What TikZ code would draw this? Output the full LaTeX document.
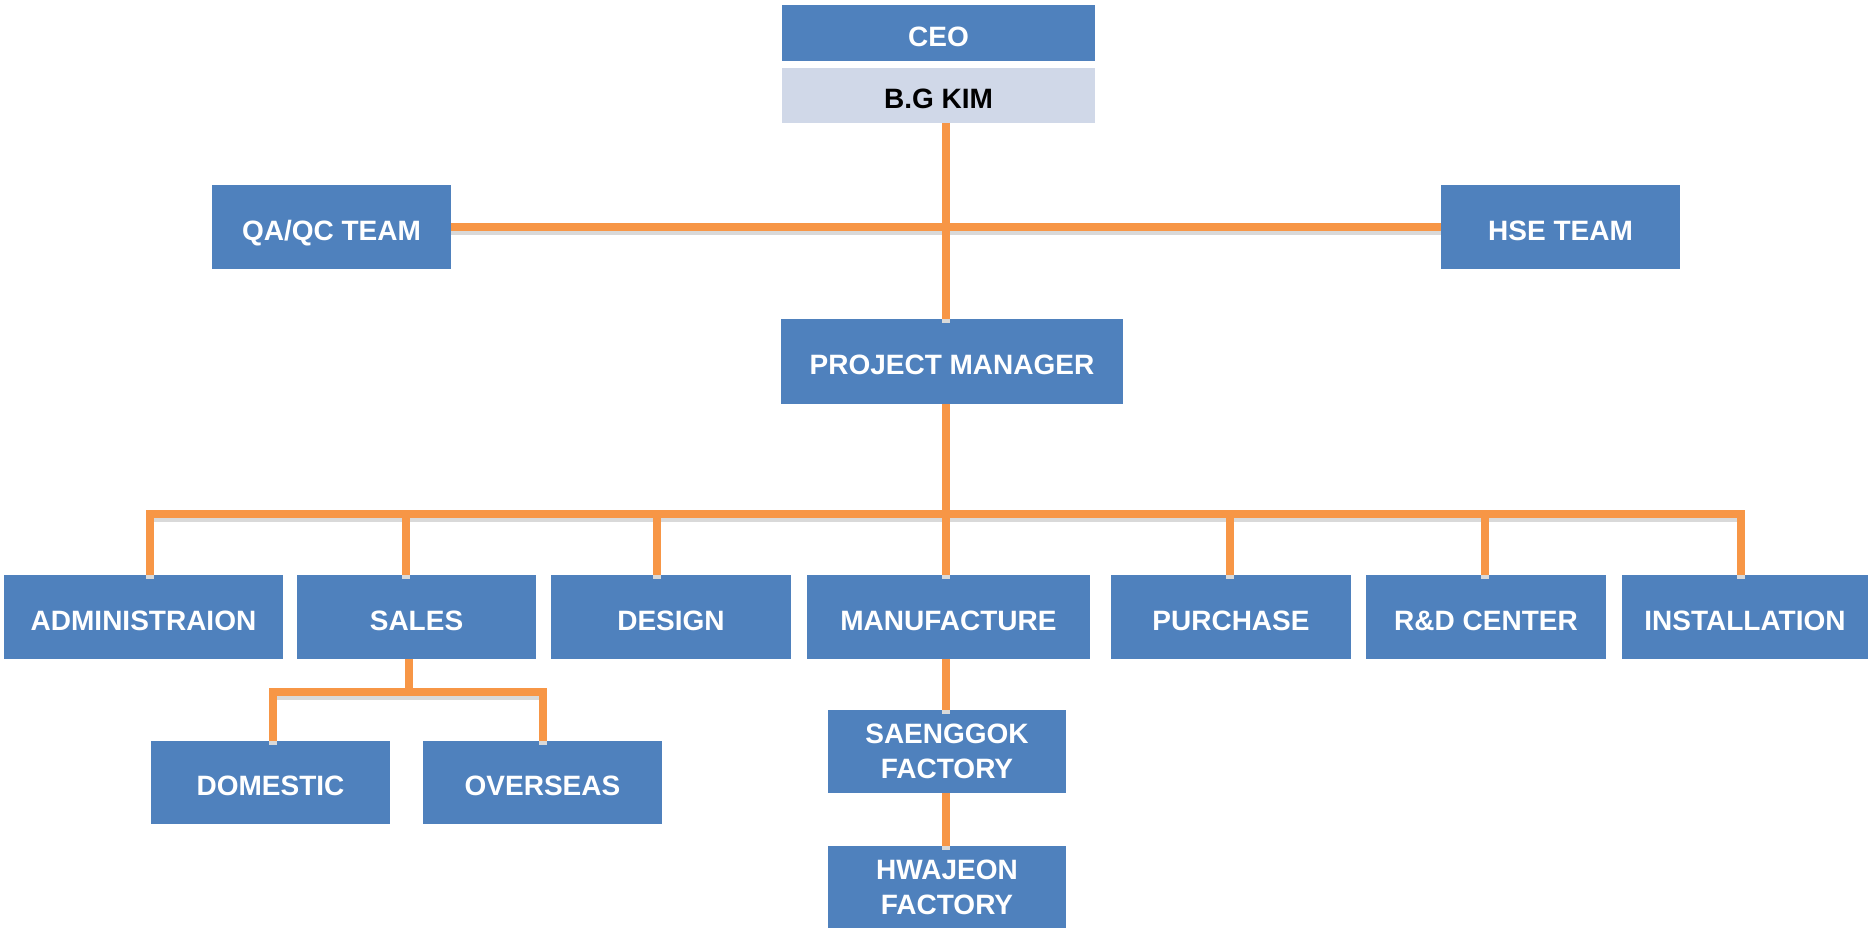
\documentclass[tikz,border=0pt]{standalone}
\usepackage{fontspec}
\setmainfont{Liberation Sans}
\usepackage{tikz}
\definecolor{boxblue}{HTML}{4F81BD}
\definecolor{namegray}{HTML}{D0D8E8}
\definecolor{lineorange}{HTML}{F79646}
\tikzset{
  unit/.style={rectangle, fill=boxblue, text=white, inner sep=0pt,
    align=center, minimum width=120pt, minimum height=42pt,
    text height=13pt, text depth=0pt,
    font=\bfseries\fontsize{14}{17.5}\selectfont},
  twoline/.style={text height=, text depth=},
  link/.style={draw=lineorange, line width=4pt,
    preaction={draw=black!15, line width=4pt,
      transform canvas={yshift=-2pt}}},
}

\begin{document}
\begin{tikzpicture}
  \useasboundingbox (0pt,0pt) rectangle (934pt,-463.5pt);

  % top
  \node[unit, minimum width=156.5pt, minimum height=28pt]
    (ceo) at (469.25pt,-16.5pt) {CEO};
  \node[unit, fill=namegray, text=black, minimum width=156.5pt,
    minimum height=27.5pt] (kim) at (469.25pt,-47.75pt) {B.G KIM};
  \node[unit, minimum width=119.5pt] (qaqc) at (165.75pt,-113.5pt) {QA/QC TEAM};
  \node[unit, minimum width=119.5pt] (hse) at (780.25pt,-113.5pt) {HSE TEAM};
  \node[unit, minimum width=171pt, minimum height=42.5pt]
    (pm) at (476pt,-180.75pt) {PROJECT MANAGER};

  % departments
  \node[unit, minimum width=139.5pt] (admin) at (71.75pt,-308.5pt) {ADMINISTRAION};
  \node[unit, minimum width=119.5pt] (sales) at (208.25pt,-308.5pt) {SALES};
  \node[unit] (design) at (335.5pt,-308.5pt) {DESIGN};
  \node[unit, minimum width=141.5pt] (manu) at (474.25pt,-308.5pt) {MANUFACTURE};
  \node[unit] (purchase) at (615.5pt,-308.5pt) {PURCHASE};
  \node[unit] (rnd) at (743pt,-308.5pt) {R\&D CENTER};
  \node[unit, minimum width=123pt] (install) at (872.5pt,-308.5pt) {INSTALLATION};

  \node[unit, minimum width=119.5pt, minimum height=41.5pt]
    (domestic) at (135.25pt,-391.25pt) {DOMESTIC};
  \node[unit, minimum width=119.5pt, minimum height=41.5pt]
    (overseas) at (271.25pt,-391.25pt) {OVERSEAS};
  \node[unit, twoline, minimum width=119pt, minimum height=41.5pt]
    (saenggok) at (473.5pt,-375.75pt) {SAENGGOK\\FACTORY};
  \node[unit, twoline, minimum width=119pt, minimum height=41.5pt]
    (hwajeon) at (473.5pt,-443.75pt) {HWAJEON\\FACTORY};

  \coordinate (hub) at (473pt,-113.5pt);
  \coordinate (bus) at (473pt,-257pt);
  \coordinate (salesbus) at (204.25pt,-346pt);

  % connectors
  \draw[link] (qaqc.east) -- (hse.west);
  \draw[link] (kim.south -| hub) -- (hub |- pm.north);
  \draw[link] (pm.south -| bus) -- (bus);
  \draw[link] ([xshift=3.25pt]admin.north) -- ([xshift=3.25pt]admin.north |- bus)
    -- ([xshift=-2pt]install.north |- bus) -- ([xshift=-2pt]install.north);
  \foreach \dept/\dx in {sales/-5.25,design/-7,manu/-1.25,purchase/-0.5,rnd/-0.5}
    \draw[link] ([xshift=\dx pt]\dept.north |- bus) -- ([xshift=\dx pt]\dept.north);

  \draw[link] (sales.south -| salesbus) -- (salesbus);
  \draw[link] ([xshift=1.25pt]domestic.north) -- ([xshift=1.25pt]domestic.north |- salesbus)
    -- (overseas.north |- salesbus) -- (overseas.north);

  \draw[link] (manu.south -| hub) -- (hub |- saenggok.north);
  \draw[link] (saenggok.south -| hub) -- (hub |- hwajeon.north);
\end{tikzpicture}
\end{document}
